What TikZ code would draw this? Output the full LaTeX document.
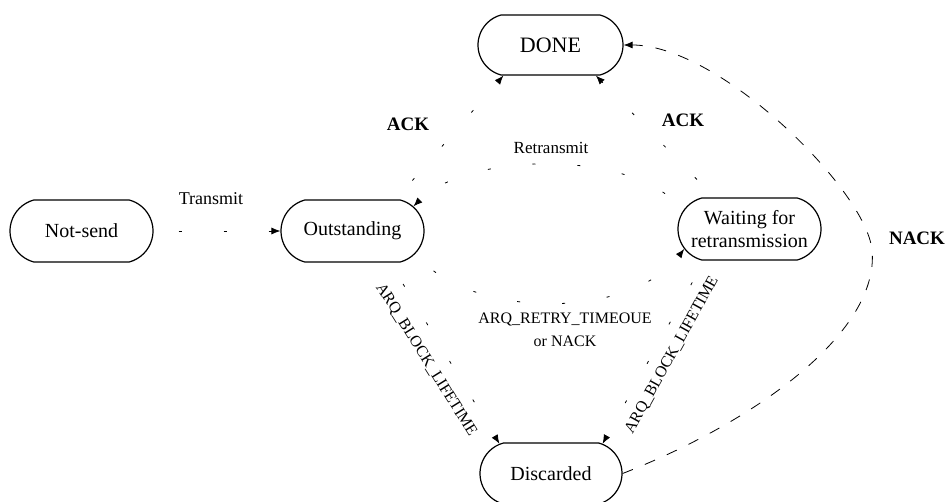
\documentclass[tikz,border=0pt]{standalone}
\usepackage{fontspec}
\setmainfont{Liberation Serif}
\usetikzlibrary{arrows.meta,shapes.misc}

\begin{document}
\begin{tikzpicture}[x=1pt,y=-1pt,
  state/.style={rounded rectangle, rounded rectangle arc length=150, draw,
    line width=1.2pt, minimum width=143pt, minimum height=62pt, inner sep=0pt,
    align=center, font=\fontsize{20}{26}\selectfont},
  tip/.style={-{Latex[length=9pt,width=7pt]}},
  trans/.style={tip, line width=0.8pt, dash pattern=on 3pt off 42pt, dash phase=20pt},
  nackline/.style={tip, line width=0.8pt, dash pattern=on 11pt off 13pt},
  evt/.style={font=\fontsize{19}{22}\selectfont\bfseries},
  plain/.style={font=\fontsize{18}{22}\selectfont},
  timer/.style={font=\fontsize{16}{23}\selectfont, align=center, inner sep=1pt}
]
\useasboundingbox (0,0) rectangle (950,502);

% states
\node[state] (ns)   at (81.5,231)  {Not-send};
\node[state] (out)  at (352.5,231) {Outstanding};
\node[state, minimum width=145pt, minimum height=60pt, font=\fontsize{22}{26}\selectfont]
               (done) at (550.5,45)  {DONE};
\node[state] (wait) at (749.5,229) {Waiting for\\[-3pt]retransmission};
\node[state, minimum width=142pt, minimum height=61pt] (disc) at (551,473.5) {Discarded};

% transitions
\draw[trans] (ns.east) -- (out.west);
\draw[trans] (out.36) -- (done.213);
\draw[trans] (wait.138) -- (done.326);
\draw[trans] (wait.165) .. controls (640,150) and (470,150) .. (out.22);
\draw[trans] (out.-20) .. controls (470,320) and (630,320) .. (wait.197);
\draw[trans] (out.-40) -- (disc.150);
\draw[trans] (wait.215) -- (disc.30);
\draw[nackline] (disc.east) .. controls (760,420) and (880,330) .. (872,250)
                .. controls (866,190) and (720,45) .. (done.east);

% transition labels
\node[plain] (lTx)   at (211,199) {Transmit};
\node[evt]   (lAckL) at (408,124) {ACK};
\node[plain, font=\fontsize{17}{20}\selectfont] (lRetx) at (551,148) {Retransmit};
\node[evt]   (lAckR) at (683,120) {ACK};
\node[evt]   (lNack) at (917,238) {NACK};
\node[timer] (lRetry) at (565,330) {ARQ\_RETRY\_TIMEOUE\\or NACK};
\node[timer, rotate=-58] (lLifeL) at (426,360) {ARQ\_BLOCK\_LIFETIME};
\node[timer, rotate=61]  (lLifeR) at (672,355) {ARQ\_BLOCK\_LIFETIME};
\end{tikzpicture}
\end{document}
